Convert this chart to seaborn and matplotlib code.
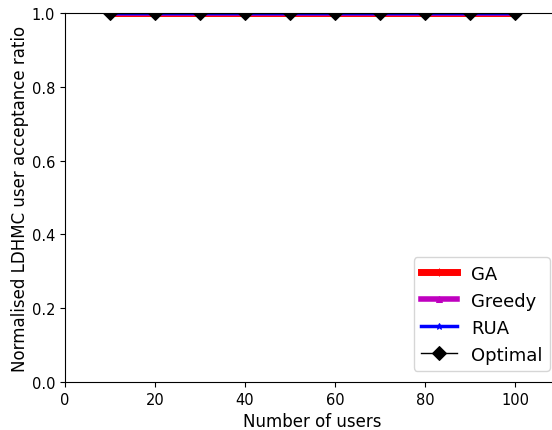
import matplotlib
matplotlib.use("Agg")
import matplotlib.pyplot as plt
import seaborn as sns
import pandas as pd

users = [10, 20, 30, 40, 50, 60, 70, 80, 90, 100]
ga = [1.0] * 10
greedy = [1.0] * 10
rua = [1.0] * 10
optimal = [1.0] * 10

plt.style.use("default")
plt.rcParams["font.family"] = ["DejaVu Sans"]

fig = plt.figure(figsize=(5.52, 4.31), dpi=100)
# the axes run past the right edge of the canvas (x up to 110)
ax = fig.add_axes([65 / 552, 48 / 431, 495 / 552, 369 / 431])

styles = [
    ("GA", ga, "red", 5, "|", 6),
    ("Greedy", greedy, "m", 4, "^", 5),
    ("RUA", rua, "blue", 2.5, "*", 5),
    ("Optimal", optimal, "black", 1, "D", 7),
]
for name, vals, col, lw, mk, ms in styles:
    df = pd.DataFrame({"users": users, "ratio": vals})
    sns.lineplot(data=df, x="users", y="ratio", ax=ax, color=col, lw=lw,
                 marker=mk, markersize=ms, markeredgecolor=col, label=name)

ax.set_xlim(0, 110)
ax.set_ylim(0, 1.0)
ax.set_xticks([0, 20, 40, 60, 80, 100])
ax.set_yticks([0.0, 0.2, 0.4, 0.6, 0.8, 1.0])
ax.tick_params(labelsize=10.5)
ax.set_xlabel("Number of users", fontsize=12)
ax.set_ylabel("Normalised LDHMC user acceptance ratio", fontsize=12, labelpad=2)
ax.legend(loc="lower right", bbox_to_anchor=(0.98, 0.03), borderaxespad=0,
          fontsize=13, frameon=True)

fig.savefig("out.png", dpi=100)
